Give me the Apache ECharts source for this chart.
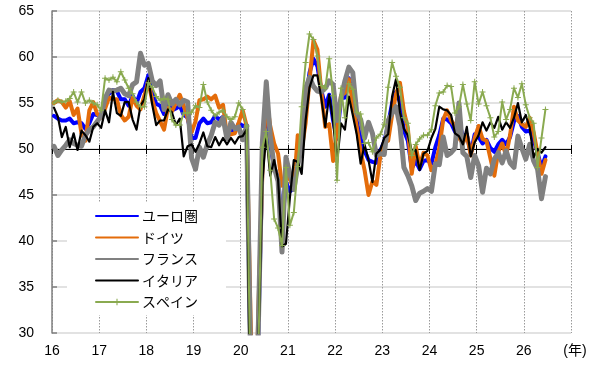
<!DOCTYPE html>
<html><head><meta charset="utf-8">
<script src="https://cdn.jsdelivr.net/npm/echarts@6/dist/echarts.min.js"></script>
<style>html,body{margin:0;padding:0;background:#fff}#c{width:597px;height:371px}</style>
</head><body><div id="c"></div>
<script>
// Monthly data, Jan 2016 - Jun 2026
const startYear = 16;
const seriesNames = ['ユーロ圏', 'ドイツ', 'フランス', 'イタリア', 'スペイン'];
const xTickLabels = ['16','17','18','19','20','21','22','23','24','25','26','(年)'];
const euro = [
53.6,53.3,53.1,53.1,53.3,52.8,52.9,52.8,52.2,52.8,53.8,53.7,
53.7,55.5,56.0,56.4,56.3,55.4,55.4,54.7,55.8,55.0,56.2,56.6,
58.0,56.2,54.9,54.7,53.8,55.2,54.2,54.4,54.7,53.7,53.4,51.2,
51.2,52.8,53.3,52.8,52.9,53.6,53.2,53.5,51.6,52.2,51.9,52.8,
52.5,52.6,26.4,12.0,30.5,48.3,54.7,50.5,48.0,46.9,41.7,46.4,
45.4,45.7,49.6,50.5,55.2,58.3,59.8,59.0,56.4,54.6,55.9,53.1,
51.1,55.5,55.6,57.7,56.1,53.0,51.2,49.8,48.8,48.6,48.5,49.8,
50.8,52.7,55.0,56.2,55.1,52.0,50.9,47.9,48.7,47.8,48.7,48.8,
48.4,50.2,51.5,53.3,53.2,52.8,51.9,52.9,51.4,51.6,49.5,51.6,
51.3,50.6,51.0,50.1,49.7,50.5,51.0,50.5,51.3,53.0,53.6,52.4,
51.9,52.0,51.0,49.6,48.0,49.2];
const germany = [
55.0,55.3,55.1,54.5,55.2,53.7,54.4,51.7,50.9,54.2,55.1,53.8,
53.4,54.4,55.6,55.4,55.4,53.7,53.1,53.5,55.6,54.7,54.3,55.8,
57.3,55.3,53.9,53.0,52.1,54.5,54.1,55.0,55.9,54.7,53.3,51.8,
53.0,55.3,55.4,55.7,55.4,55.8,54.5,54.8,51.4,51.6,51.7,52.9,
54.2,52.5,31.7,16.2,32.6,47.3,55.6,52.5,50.6,49.5,46.0,47.0,
46.7,45.7,51.5,49.9,52.8,57.5,61.8,60.8,56.2,52.4,52.7,48.7,
52.2,55.8,56.1,57.6,55.0,52.4,49.7,47.7,45.0,46.5,46.1,49.2,
50.7,50.9,53.7,56.0,57.2,54.1,52.3,47.3,50.3,48.2,49.6,49.3,
47.7,48.3,50.1,53.2,54.2,53.1,52.5,51.2,50.6,51.6,49.3,51.2,
52.5,51.1,50.9,49.0,47.1,49.7,50.6,49.3,51.5,54.6,53.1,52.7,
52.4,53.4,51.8,49.5,47.3,48.8];
const france = [
50.3,49.3,49.9,50.4,51.0,50.6,50.4,50.3,51.5,52.1,52.4,53.0,
53.6,55.5,56.4,56.3,56.4,56.6,56.0,55.8,57.0,57.3,60.4,59.1,
59.3,57.4,56.9,57.4,54.3,55.9,54.9,55.4,54.8,55.3,55.1,49.0,
47.8,50.2,49.1,50.5,51.5,52.9,52.6,53.4,51.1,52.9,52.2,52.4,
51.0,52.5,27.4,10.2,31.1,50.7,57.3,51.5,48.0,46.5,38.8,49.1,
47.3,45.6,48.2,50.3,56.6,57.8,56.8,56.3,56.2,56.6,57.4,57.0,
53.1,55.5,57.4,58.9,58.3,53.9,53.2,51.2,52.9,51.7,49.3,49.5,
49.4,53.1,53.9,54.6,52.5,48.0,47.1,46.0,44.4,45.2,45.4,45.7,
45.4,48.4,48.3,51.3,49.3,49.6,50.1,55.0,49.6,49.2,46.9,49.3,
48.2,45.3,47.9,47.3,48.9,49.6,48.5,49.8,48.5,48.0,51.4,50.1,
48.9,50.5,48.7,47.8,44.6,47.0];
const italy = [
54.5,53.5,51.3,52.4,50.2,51.7,49.9,52.0,51.5,50.8,52.4,52.8,
52.3,54.2,52.9,56.2,53.9,53.6,55.1,55.1,53.2,52.1,54.7,55.4,
57.7,54.8,52.6,53.1,53.1,54.3,54.0,52.6,53.3,49.2,50.3,50.5,
49.7,50.6,51.8,50.3,50.2,51.3,50.4,51.2,50.5,51.2,50.6,51.3,
51.4,52.1,17.4,10.8,28.9,46.4,51.6,47.1,48.8,46.7,39.4,39.7,
44.7,48.8,48.6,47.3,53.1,56.7,58.0,58.0,55.5,52.4,55.9,53.0,
48.5,52.8,52.1,55.7,53.7,51.6,48.4,50.5,48.8,46.4,49.5,49.9,
51.2,51.6,55.7,57.6,54.0,52.2,51.5,49.8,49.9,47.7,49.5,49.8,
51.2,52.2,54.6,54.3,54.2,53.7,51.7,51.4,50.5,52.4,49.2,50.7,
51.5,52.9,52.0,52.9,52.3,53.5,52.1,52.9,52.3,53.4,55.0,52.9,
53.7,52.3,49.1,50.0,49.6,50.2];
const spain = [
55.0,55.3,55.1,55.2,55.5,56.2,55.1,56.2,55.0,55.3,55.0,54.8,
54.2,57.7,57.5,57.8,57.3,58.4,57.5,56.6,56.0,55.1,54.6,54.6,
57.2,56.7,55.7,55.3,55.5,55.4,53.2,52.6,52.6,53.9,53.9,54.0,
54.7,54.5,57.0,55.1,54.2,53.6,54.0,54.2,53.5,53.2,53.5,55.0,
54.3,52.5,23.0,7.1,27.9,50.2,51.9,47.7,42.4,41.4,39.5,48.0,
41.7,43.1,48.1,54.6,59.4,62.5,61.9,60.1,56.9,56.6,59.8,55.8,
46.6,56.6,53.4,57.1,56.5,54.0,53.8,50.6,50.7,49.7,51.2,51.6,
52.7,56.7,59.4,57.9,56.7,53.4,52.8,49.3,50.5,51.1,51.5,51.5,
52.1,54.7,56.1,56.2,56.9,56.8,53.9,54.6,57.0,54.9,53.1,57.3,
54.9,56.2,54.7,53.4,51.3,51.9,55.1,53.2,54.3,56.6,55.6,57.1,
54.8,53.4,52.8,48.0,51.2,54.3];

const colors = ['#0000FF', '#E46C0A', '#808080', '#000000', '#8AAA50'];
const widths = [4, 4, 5, 2.2, 2];
const allValues = [euro, germany, france, italy, spain];

// month position (mid-month) on a year scale
function pairs(arr) { return arr.map((v, i) => [startYear + (i + 0.5) / 12, v]); }

const font = '"Liberation Sans", Arial, "Noto Sans CJK JP", sans-serif';
const plusPath = 'path://M2.5,0h1v2.5h2.5v1h-2.5v2.5h-1v-2.5h-2.5v-1h2.5z';

const series = allValues.map((arr, k) => ({
  name: seriesNames[k],
  type: 'line',
  xAxisIndex: 0, yAxisIndex: 0,
  data: pairs(arr),
  symbol: k === 4 ? plusPath : 'none',
  symbolSize: 6,
  showSymbol: k === 4,
  showAllSymbol: true,
  clip: true,
  color: colors[k],
  itemStyle: { color: colors[k] },
  lineStyle: { color: colors[k], width: widths[k], join: 'round', cap: 'round' },
  emphasis: { disabled: true },
  z: 2 + k
}));

const chart = echarts.init(document.getElementById('c'), null, { renderer: 'canvas' });
chart.setOption({
  animation: false,
  backgroundColor: '#fff',
  textStyle: { fontFamily: font },
  grid: { left: 52, right: 26, top: 11, bottom: 38, containLabel: false },
  legend: {
    orient: 'vertical', left: 67, top: 203,
    padding: [6, 28, 6, 28], backgroundColor: '#fff',
    itemWidth: 42, itemHeight: 8, itemGap: 7.5,
    textStyle: { fontSize: 14, color: '#000', fontFamily: '"Noto Sans CJK JP", sans-serif', padding: [0, 0, 0, -1] },
    data: seriesNames.map((n, k) => k === 4 ? { name: n } : { name: n, itemStyle: { opacity: 0 } })
  },
  xAxis: [
    {
      type: 'value', min: 16, max: 27, interval: 1,
      position: 'bottom',
      axisLine: { show: false, onZero: false },
      axisTick: { show: false },
      axisLabel: {
        fontSize: 14, color: '#000', margin: 11, fontFamily: font,
        formatter: v => { const s = xTickLabels[Math.round(v) - 16]; return s === '(年)' ? '  (年)' : s; }
      },
      splitLine: { show: true, lineStyle: { color: '#9a9a9a', width: 1, type: [1.5, 1.5] } }
    },
    {
      type: 'value', min: 16, max: 27, interval: 1, position: 'bottom',
      axisLine: { show: true, onZero: true, onZeroAxisIndex: 1, lineStyle: { color: '#000', width: 1 } },
      axisTick: { show: true, length: 5, lineStyle: { color: '#000', width: 1 } },
      axisLabel: { show: false }, splitLine: { show: false }
    },
    {
      type: 'value', min: 16, max: 27, interval: 1, position: 'bottom',
      axisLine: { show: false, onZero: true, onZeroAxisIndex: 1 },
      axisTick: { show: true, inside: true, length: 4, lineStyle: { color: '#000', width: 1 } },
      axisLabel: { show: false }, splitLine: { show: false }
    }
  ],
  yAxis: [
    {
      type: 'value', min: 30, max: 65, interval: 5,
      axisLine: { show: true, lineStyle: { color: '#808080', width: 1.5 } },
      axisTick: { show: true, inside: true, length: 5, lineStyle: { color: '#808080', width: 1.5 } },
      axisLabel: { fontSize: 14, color: '#000', margin: 18, fontFamily: font },
      splitLine: { show: true, lineStyle: { color: '#d9d9d9', width: 1.5 } }
    },
    { type: 'value', min: -20, max: 15, show: false }
  ],
  series: series
});
</script></body></html>
